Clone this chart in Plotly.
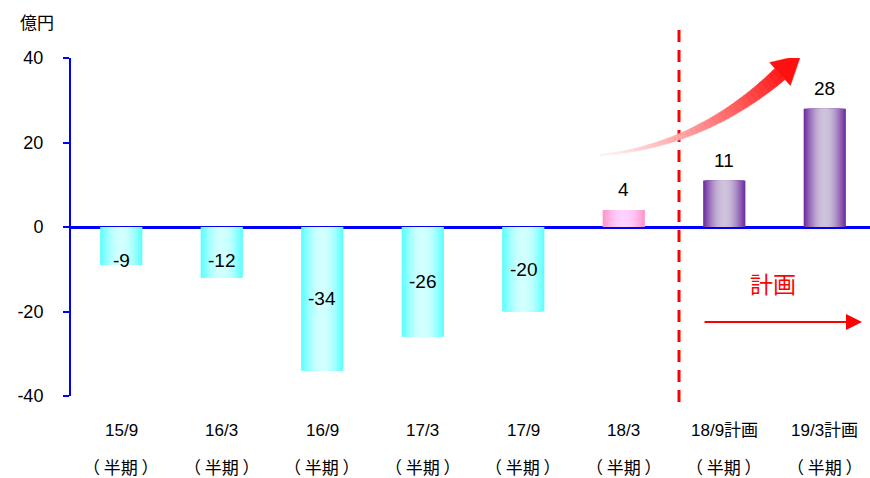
import plotly.graph_objects as go
import numpy as np

# ---- data ----
categories = ["15/9", "16/3", "16/9", "17/3", "17/9", "18/3", "18/9計画", "19/3計画"]
sub_labels = ["（ 半期 ）"] * 8
values = [-9, -12, -34, -26, -20, 4, 11, 28]
bar_kind = ["actual"] * 5 + ["recent"] + ["plan"] * 2
y_ticks = [-40, -20, 0, 20, 40]
y_ticktext = [str(v) for v in y_ticks]

# ---- styling ----
W, H = 870, 478
ML, MR, MT, MB = 71, 0, 58, 82
XR = [-0.5, 7.45]
YR = [-40, 40]
FONT = "Liberation Sans, Arial, Noto Sans CJK JP"
CJK = "Noto Sans CJK JP, Liberation Sans"

edge_col = {"actual": (95, 255, 255), "recent": (255, 150, 205), "plan": (112, 48, 160)}
mid_col = {"actual": (210, 255, 255), "recent": (255, 210, 255), "plan": (206, 194, 220)}

def px2x(px):
    return XR[0] + (px - ML) / (W - ML - MR) * (XR[1] - XR[0])

def py2y(py):
    return YR[1] - (py - MT) / (H - MT - MB) * (YR[1] - YR[0])

def py2paper(py):
    return (H - MB - py) / (H - MT - MB)

def px2paper(px):
    return (px - ML) / (W - ML - MR)

fig = go.Figure()
x = list(range(len(categories)))
bw = 0.42
K = 14
for k in range(K):
    f = k / (K - 1)
    w = bw * (1 - k / K)
    cols = []
    for kind in bar_kind:
        e, m = edge_col[kind], mid_col[kind]
        t = np.sin(f * np.pi / 2)
        c = tuple(int(e[i] + (m[i] - e[i]) * t) for i in range(3))
        cols.append("rgb(%d,%d,%d)" % c)
    fig.add_trace(go.Bar(x=x, y=values, width=[w] * len(x), marker=dict(color=cols, line=dict(width=0)),
                         hoverinfo="skip", showlegend=False))

# value labels
for xi, v in zip(x, values):
    if v < 0:
        fig.add_annotation(x=xi, y=min(v / 2, -8), text=str(v), showarrow=False,
                           xanchor="center", yanchor="middle",
                           font=dict(size=19, family=FONT, color="black"))
    else:
        fig.add_annotation(x=xi, y=v, text=str(v), showarrow=False, xanchor="center",
                           yanchor="bottom", yshift=8,
                           font=dict(size=19, family=FONT, color="black"))

# category labels
for xi, c, s in zip(x, categories, sub_labels):
    fig.add_annotation(x=xi, y=py2paper(430), yref="paper", text=c, showarrow=False,
                       xanchor="center", yanchor="middle",
                       font=dict(size=17, family=FONT, color="black"))
    fig.add_annotation(x=xi, y=py2paper(466), yref="paper", text=s, showarrow=False,
                       xanchor="center", yanchor="middle",
                       font=dict(size=17, family=CJK, color="black"))

# unit title
fig.add_annotation(x=px2paper(18), y=py2paper(21), xref="paper", yref="paper", text="億円",
                   showarrow=False, xanchor="left", yanchor="middle",
                   font=dict(size=17, family=CJK, color="black"))

# dashed divider
fig.add_shape(type="line", x0=px2x(679), x1=px2x(679), y0=py2paper(30), y1=py2paper(410),
              xref="x", yref="paper", line=dict(color="#FF0000", width=3, dash="12px,8px"))

# 計画 text and arrow
fig.add_annotation(x=px2x(773), y=py2y(283), text="計画", showarrow=False,
                   xanchor="center", yanchor="middle",
                   font=dict(size=23, family=CJK, color="#FF0000"))
fig.add_annotation(x=px2x(862), y=py2y(322), ax=px2x(703), ay=py2y(322), axref="x", ayref="y",
                   text="", showarrow=True, arrowhead=2, arrowsize=1.6, arrowwidth=2, arrowcolor="#FF0000")

# curved gradient arrow (decoration)
P0, P1, P2 = np.array([600.0, 155.0]), np.array([700.0, 146.0]), np.array([780.0, 74.0])
N = 40
ts = np.linspace(0, 1, N + 1)
pts = [(1 - t) ** 2 * P0 + 2 * (1 - t) * t * P1 + t ** 2 * P2 for t in ts]
ders = [2 * (1 - t) * (P1 - P0) + 2 * t * (P2 - P1) for t in ts]
for i in range(N):
    segs = []
    for j in (i, i + 1):
        d = ders[j] / np.linalg.norm(ders[j])
        n = np.array([-d[1], d[0]])
        hw = 0.5 + 7.0 * ts[j] ** 1.2
        segs.append((pts[j] + n * hw, pts[j] - n * hw))
    a = 0.06 + 0.85 * (ts[i] ** 1.2)
    c = (255, int(255 * (1 - a)), int(255 * (1 - a)))
    col = "rgb(%d,%d,%d)" % c
    poly = [segs[0][0], segs[1][0], segs[1][1], segs[0][1]]
    path = "M " + " L ".join("%f,%f" % (px2x(p[0]), py2y(p[1])) for p in poly) + " Z"
    fig.add_shape(type="path", path=path, xref="x", yref="y", fillcolor=col,
                  line=dict(color=col, width=0.6), layer="above")
d = (P2 - P1) / np.linalg.norm(P2 - P1)
n = np.array([-d[1], d[0]])
tip = P2 + d * 28
head = [P2 + n * 15.5, tip, P2 - n * 15.5]
path = "M " + " L ".join("%f,%f" % (px2x(p[0]), py2y(p[1])) for p in head) + " Z"
fig.add_shape(type="path", path=path, xref="x", yref="y", fillcolor="#FF1010",
              line=dict(color="#FF1010", width=0.5), layer="above")

fig.update_layout(
    width=W, height=H, margin=dict(l=ML, r=MR, t=MT, b=MB, autoexpand=False),
    plot_bgcolor="white", paper_bgcolor="white", barmode="overlay", showlegend=False,
    font=dict(family=FONT, color="black"),
    xaxis=dict(range=XR, showticklabels=False, showgrid=False, zeroline=False, showline=False,
               ticks="", automargin=False),
    yaxis=dict(range=YR, tickvals=y_ticks, ticktext=y_ticktext, showgrid=False, zeroline=True,
               zerolinecolor="#0000FF", zerolinewidth=2.5, showline=True, linecolor="#0000FF",
               linewidth=2, ticks="outside", ticklen=6, tickcolor="#0000FF", tickwidth=2,
               ticklabelstandoff=16, automargin=False,
               tickfont=dict(size=18, family=FONT, color="black")),
)

fig.write_html("out.html", config={"displayModeBar": False},
               post_script="document.body.style.margin='0px';document.body.style.overflow='hidden';")
